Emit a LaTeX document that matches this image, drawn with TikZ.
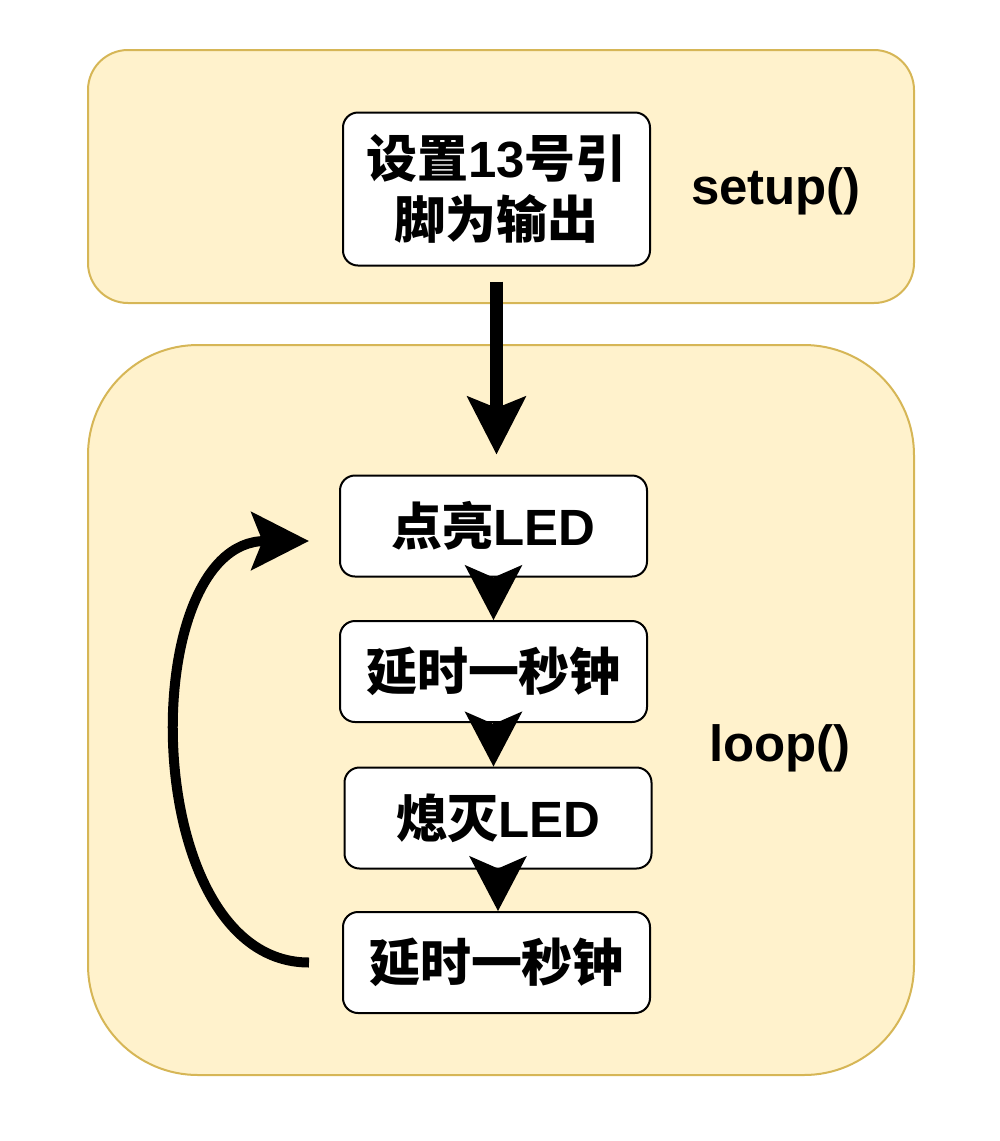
\documentclass[tikz,border=0pt]{standalone}
\usepackage{fontspec}
\setmainfont{Liberation Sans}
\newfontfamily\cjk{Noto Sans CJK SC}
\usetikzlibrary{arrows.meta}
\definecolor{panelfill}{HTML}{FFF2CC}
\definecolor{panelline}{HTML}{D6B656}
\tikzset{
  panel/.style={fill=panelfill,draw=panelline,line width=0.04cm},
  box/.style={draw=black,fill=white,line width=0.04cm,rounded corners=0.3cm,
    minimum width=6.14cm,minimum height=2.02cm,align=center,
    font=\bfseries\fontsize{29}{35}\selectfont},
  lbl/.style={font=\bfseries\fontsize{29}{34}\selectfont},
  bighead/.style={-{Stealth[length=1.15cm,width=1.15cm,inset=0.22cm]}},
  smallhead/.style={line width=0.04cm,-{Stealth[length=1.1cm,width=1.15cm,inset=0.25cm]}}
}
\begin{document}
\begin{tikzpicture}
\useasboundingbox (0,0) rectangle (20,-22.82);

  % the two frames
  \draw[panel,rounded corners=0.8cm] (1.76,-1.0) rectangle (18.28,-6.06);
  \draw[panel,rounded corners=2.2cm] (1.76,-6.9) rectangle (18.28,-21.5);

  \node[box,minimum height=3.06cm] at (9.93,-3.78) (set) {{\cjk 设置}13{\cjk 号引}\\{\cjk 脚为输出}};
  \node[lbl] at (15.52,-3.82) (setl) {setup()};

  \node[box] at (9.87,-10.52) (on) {{\cjk 点亮}LED};
  \node[box] at (9.87,-13.43) (wait1) {{\cjk 延时一秒钟}};
  \node[box] at (9.96,-16.36) (off) {{\cjk 熄灭}LED};
  \node[box] at (9.93,-19.25) (wait2) {{\cjk 延时一秒钟}};
  \node[lbl] at (15.6,-14.96) (loopl) {loop()};

  \draw[bighead,line width=0.26cm,shorten <=0.3cm,shorten >=0.4cm] (set.south) -- (on.north -| set.south);

  \draw[smallhead] (on.south) -- (wait1.north);
  \draw[smallhead] (wait1.south) -- (off.north -| wait1.south);
  \draw[smallhead] (off.south) -- (wait2.north -| off.south);

  % back to the start
  \draw[bighead,line width=0.2cm,shorten <=0.66cm,shorten >=0.6cm]
    (wait2.west) .. controls +(-4.1,0) and +(-4.1,0) .. ([yshift=-0.3cm]on.west);

\end{tikzpicture}
\end{document}
